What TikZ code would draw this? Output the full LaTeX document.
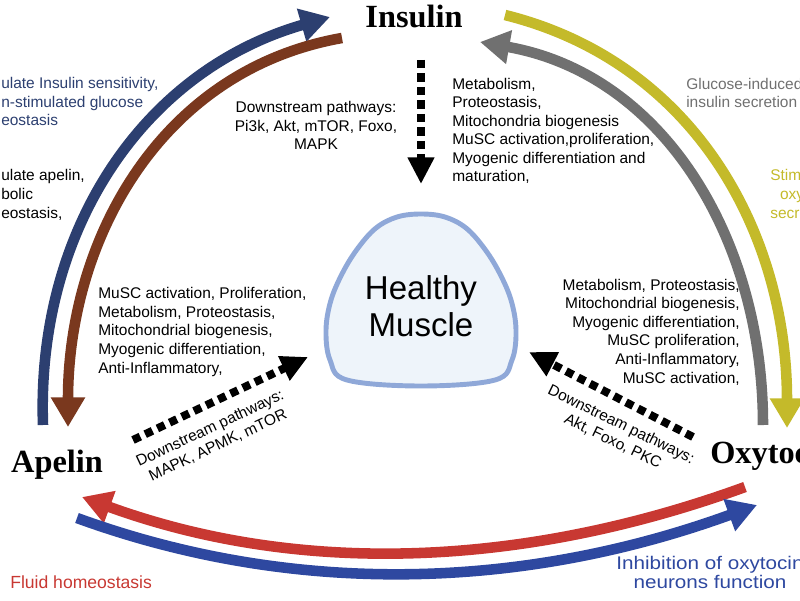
\documentclass[tikz,border=0pt]{standalone}
\usepackage{fontspec}
\setmainfont{Liberation Sans}
\newfontfamily\headfont{Liberation Serif}
\newfontfamily\widefont[FakeStretch=1.13]{Liberation Sans}
\usetikzlibrary{arrows.meta,positioning,calc}

\definecolor{navyarc}{RGB}{44,63,112}
\definecolor{brownarc}{RGB}{122,56,30}
\definecolor{olivearc}{RGB}{196,186,42}
\definecolor{greyarc}{RGB}{112,112,112}
\definecolor{redarc}{RGB}{200,56,50}
\definecolor{bluearc}{RGB}{46,72,160}
\definecolor{musclerim}{RGB}{143,168,216}
\definecolor{musclefill}{RGB}{238,244,250}

\begin{document}
\begin{tikzpicture}[
    x=0.025cm, y=0.025cm,
    hormone/.style={font=\headfont\bfseries\fontsize{23}{26}\selectfont, inner sep=0pt},
    body/.style={font=\fontsize{11}{13.2}\selectfont, inner sep=0pt},
    note/.style={font=\fontsize{12.5}{13.2}\selectfont, inner sep=0pt},
    bignote/.style={font=\widefont\fontsize{13}{13}\selectfont, inner sep=0pt},
    bigarrow/.style={line width=7.5pt, -{Triangle[width=23pt,length=21pt]}},
    dots/.style={line width=5.7pt, dash pattern=on 5.7pt off 3.9pt, -{Triangle[width=18pt,length=19pt]}}
]
\useasboundingbox (0,0) rectangle (800,600);
\clip (0,0) rectangle (800,600);

\node[hormone, anchor=base] (insulin) at (414,572) {Insulin};
\node[hormone, anchor=base] (apelin) at (57,128) {Apelin};
\node[hormone, anchor=base west] (oxytocin) at (710,137) {Oxytocin};

\draw[line width=3.5pt, draw=musclerim, fill=musclefill] plot[smooth cycle, tension=0.6] coordinates {
    (421,386) (445,383) (466,372) (484,352) (499,328) (511,300) (516,270) (512,240)
    (495,220) (421,214) (347,220) (330,240) (326,270) (331,300) (343,328) (358,352)
    (376,372) (397,383)};
\node[align=center, font=\fontsize{23.5}{26.3}\selectfont] (muscle) at (421,294) {Healthy\\Muscle};

% arc ends
\coordinate (apelinL) at (43,175);
\coordinate (insulinL) at (330,583);
\coordinate (insulinB) at (342,562);
\coordinate (apelinB) at (68,173);
\coordinate (insulinY) at (505,585);
\coordinate (oxyY) at (787,172);
\coordinate (oxyG) at (763,175);
\coordinate (insulinG) at (480,558);
\coordinate (oxyR) at (745,113);
\coordinate (apelinR) at (82,103);
\coordinate (apelinU) at (77,82);
\coordinate (oxyU) at (757,95);

\draw[bigarrow, navyarc] (apelinL) to[out=92, in=196] (insulinL);
\draw[bigarrow, brownarc] (insulinB) to[out=190, in=90] (apelinB);
\draw[bigarrow, olivearc] (insulinY) to[out=-14, in=90] (oxyY);
\draw[bigarrow, greyarc] (oxyG) to[out=90, in=-10] (insulinG);
\draw[bigarrow, redarc] (oxyR) to[out=200, in=-20, looseness=0.9] (apelinR);
\draw[bigarrow, bluearc] (apelinU) to[out=-20, in=200, looseness=0.9] (oxyU);

% pathways into muscle
\coordinate (insulinD) at (421,540);
\coordinate (muscleT) at (421,416);
\coordinate (apelinD) at (133,160);
\coordinate (muscleL) at (308,243);
\coordinate (oxyD) at (693,163);
\coordinate (muscleR) at (529,248);

\draw[dots] (insulinD) -- (muscleT);
\draw[dots] (apelinD) -- (muscleL);
\draw[dots] (oxyD) -- (muscleR);

\node[body, anchor=base, align=center] (insulin_path) at (316,450) {Downstream pathways:\\Pi3k, Akt, mTOR, Foxo,\\MAPK};
\node[body, anchor=base west, align=left] (insulin_fx) at (452,418) {Metabolism,\\Proteostasis,\\Mitochondria biogenesis\\MuSC activation,proliferation,\\Myogenic differentiation and\\maturation,};
\node[body, anchor=base west, align=left] (apelin_fx) at (98,227) {MuSC activation, Proliferation,\\Metabolism, Proteostasis,\\Mitochondrial biogenesis,\\Myogenic differentiation,\\Anti-Inflammatory,};
\node[body, anchor=base east, align=right] (oxy_fx) at (740,217) {Metabolism, Proteostasis,\\Mitochondrial biogenesis,\\Myogenic differentiation,\\MuSC proliferation,\\Anti-Inflammatory,\\MuSC activation,};
\node[body, rotate=25, align=center] (apelin_path) at (214,163) {Downstream pathways:\\MAPK, APMK, mTOR};
\node[body, rotate=-26, align=center] (oxy_path) at (617,167) {Downstream pathways:\\Akt, Foxo, PKC};

% side notes
\node[body, anchor=base west, align=left, text=navyarc] (note_navy) at (1,474) {ulate Insulin sensitivity,\\n-stimulated glucose\\eostasis};
\node[body, anchor=base west, align=left] (note_black) at (1,382) {ulate apelin,\\bolic\\eostasis,};
\node[body, anchor=base west, align=left, text=greyarc] (note_grey) at (686,492) {Glucose-induced\\insulin secretion};
\node[body, anchor=base west, align=left, text=olivearc] (note_olive) at (770,382) {Stim\\\hspace{7pt}oxy\\secr};
\node[note, anchor=base west, text=redarc] (note_red) at (10,12) {Fluid homeostasis};
\node[bignote, anchor=base, align=center, text=bluearc] (note_blue) at (710,12) {Inhibition of oxytocin\\neurons function};
\end{tikzpicture}
\end{document}
